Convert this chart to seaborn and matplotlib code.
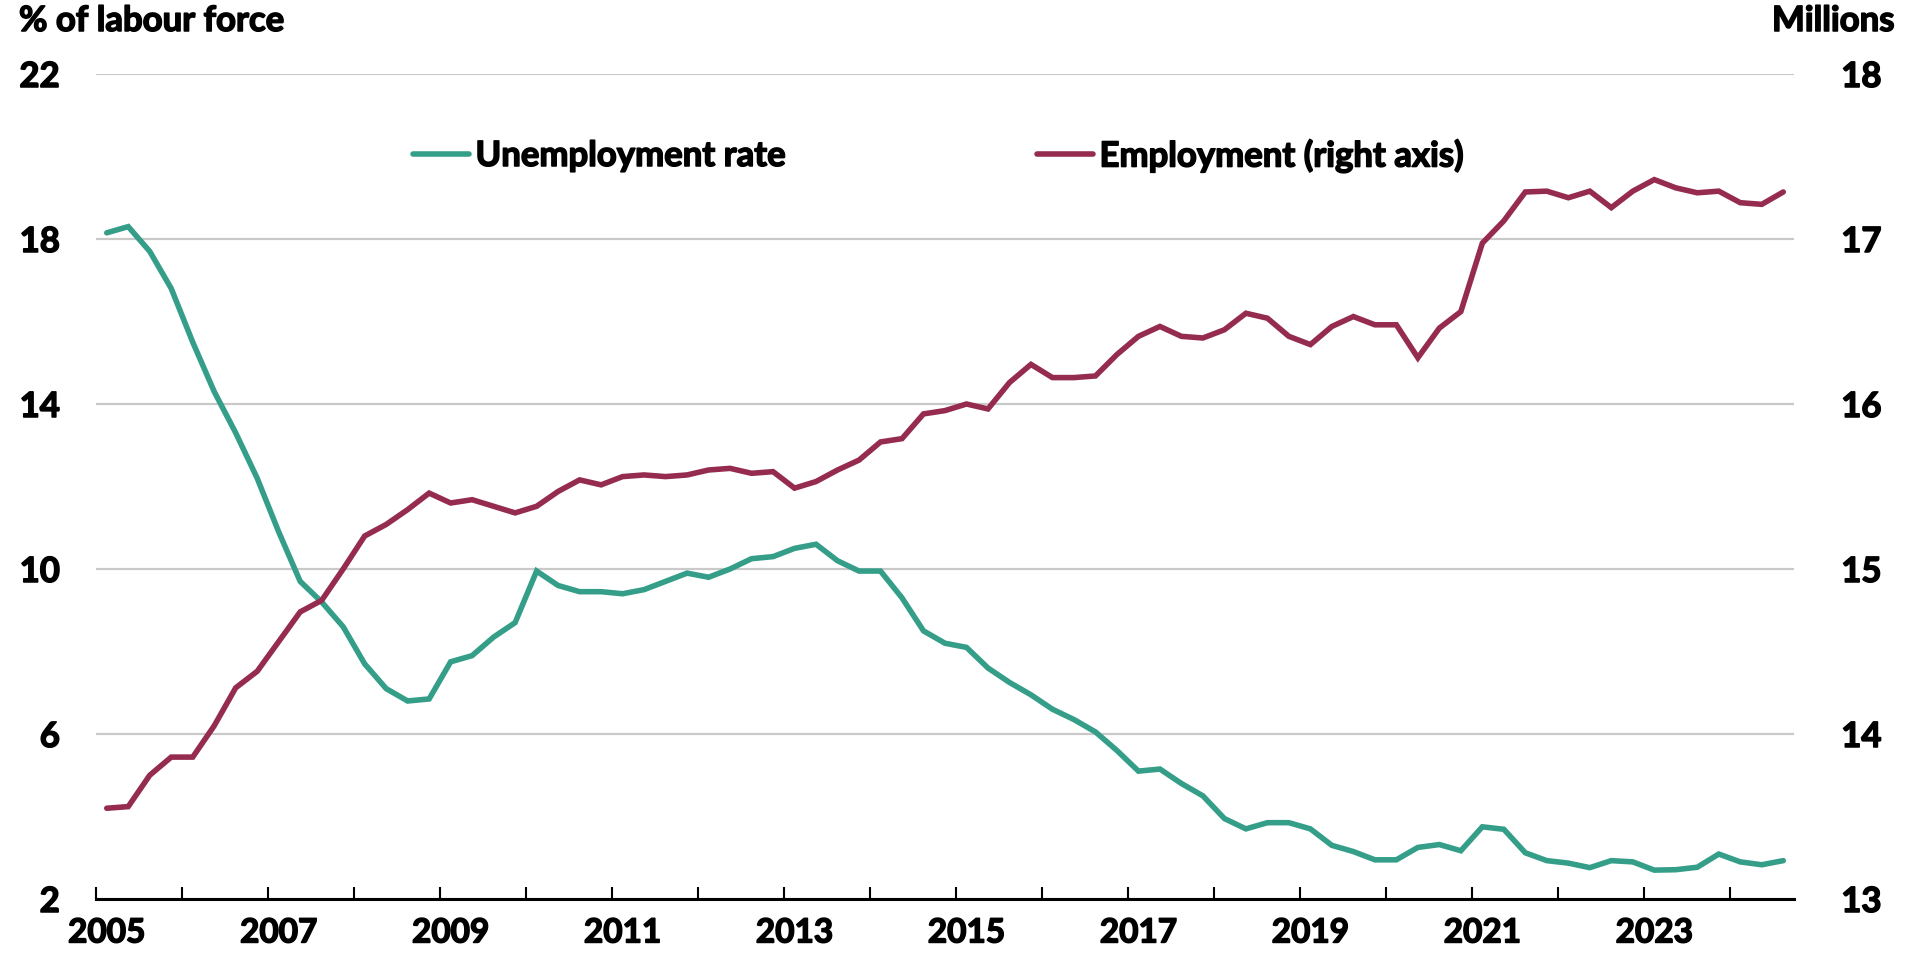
import numpy as np
import pandas as pd
import matplotlib
matplotlib.use("Agg")
import matplotlib.pyplot as plt
import matplotlib.patheffects as pe
import seaborn as sns
from matplotlib.lines import Line2D

# Quarterly observations, 2005 Q1 to 2024 Q3
years = list(range(2005, 2025))
quarters = [f"{y}Q{q}" for y in years for q in range(1, 5)][:79]

unemployment_rate = [
    18.15, 18.3, 17.7, 16.8,
    15.5, 14.3, 13.3, 12.2,
    10.9, 9.7, 9.2, 8.6,
    7.7, 7.1, 6.8, 6.85,
    7.75, 7.9, 8.35, 8.7,
    9.95, 9.6, 9.45, 9.45,
    9.4, 9.5, 9.7, 9.9,
    9.8, 10.0, 10.25, 10.3,
    10.5, 10.6, 10.2, 9.95,
    9.95, 9.3, 8.5, 8.2,
    8.1, 7.6, 7.25, 6.95,
    6.6, 6.35, 6.05, 5.6,
    5.1, 5.15, 4.8, 4.5,
    3.95, 3.7, 3.85, 3.85,
    3.7, 3.3, 3.15, 2.95,
    2.95, 3.25, 3.32, 3.17,
    3.75, 3.69, 3.12, 2.93,
    2.87, 2.76, 2.93, 2.9,
    2.7, 2.71, 2.77, 3.09,
    2.9, 2.83, 2.93,
]

employment_millions = [
    13.55, 13.56, 13.75, 13.86,
    13.86, 14.05, 14.28, 14.38,
    14.56, 14.74, 14.81, 15.0,
    15.2, 15.27, 15.36, 15.46,
    15.4, 15.42, 15.38, 15.34,
    15.38, 15.47, 15.54, 15.51,
    15.56, 15.57, 15.56, 15.57,
    15.6, 15.61, 15.58, 15.59,
    15.49, 15.53, 15.6, 15.66,
    15.77, 15.79, 15.94, 15.96,
    16.0, 15.97, 16.13, 16.24,
    16.16, 16.16, 16.17, 16.3,
    16.41, 16.47, 16.41, 16.4,
    16.45, 16.55, 16.52, 16.41,
    16.36, 16.47, 16.53, 16.48,
    16.48, 16.28, 16.46, 16.56,
    16.975, 17.11, 17.285, 17.29,
    17.25, 17.29, 17.19, 17.29,
    17.36, 17.31, 17.28, 17.29,
    17.22, 17.21, 17.285,
]

left_ticks = [2, 6, 10, 14, 18, 22]
right_ticks = [13, 14, 15, 16, 17, 18]
year_ticks = list(range(2005, 2025))
label_years = [y for y in year_ticks if y % 2 == 1]

TEAL = "#359E89"
MAROON = "#952C50"
GRID = "#C9C9C9"
FONT = "Lato"
SIZE = 25
HEAVY = [pe.withStroke(linewidth=1.1, foreground="black")]

# Each quarter sits in the middle of its quarter-year slot
df = pd.DataFrame({
    "quarter": quarters,
    "unemployment": unemployment_rate,
    "employment": employment_millions,
})
df["t"] = [int(q[:4]) + (int(q[-1]) - 0.5) / 4 for q in df["quarter"]]

sns.set_theme(style="white")
plt.rcParams["font.family"] = [FONT, "DejaVu Sans"]
plt.rcParams["font.weight"] = "bold"

fig = plt.figure(figsize=(19.06, 9.54), dpi=100)
ax = fig.add_axes([96 / 1906, 1 - 900 / 954, (1794 - 96) / 1906, (900 - 75) / 954])
ax2 = ax.twinx()

sns.lineplot(data=df, x="t", y="unemployment", ax=ax, color=TEAL,
             linewidth=4.0, solid_joinstyle="miter", zorder=3)
sns.lineplot(data=df, x="t", y="employment", ax=ax2, color=MAROON,
             linewidth=4.0, solid_joinstyle="miter", zorder=3)

ax.set_xlim(2005, 2024.75)
ax.set_ylim(2, 22)
ax2.set_ylim(13, 18)

ax.set_yticks(left_ticks)
ax.set_yticklabels([str(v) for v in left_ticks])
ax2.set_yticks(right_ticks)
ax2.set_yticklabels([str(v) for v in right_ticks])

# Year labels sit on each labelled year's first quarter
ax.set_xticks([y + 0.125 for y in label_years])
ax.set_xticklabels([str(y) for y in label_years])

# Year-boundary tick marks rising from the baseline
ax.vlines(year_ticks, 0, 0.0145, transform=ax.get_xaxis_transform(),
          colors="black", linewidth=1.5, zorder=4, clip_on=False)

ax.grid(axis="y", which="major", color=GRID, linewidth=1.6)
ax.grid(axis="x", which="both", visible=False)
ax2.grid(False)
ax.set_axisbelow(True)

for a in (ax, ax2):
    for side in ("top", "left", "right"):
        a.spines[side].set_visible(False)
    a.set_xlabel("")
    a.set_ylabel("")
ax.spines["bottom"].set_visible(True)
ax.spines["bottom"].set_color("black")
ax.spines["bottom"].set_linewidth(2.2)
ax2.spines["bottom"].set_visible(False)

ax.tick_params(axis="x", length=0, pad=14, labelsize=24, labelcolor="black")
ax.tick_params(axis="y", length=0, pad=26, labelsize=SIZE, labelcolor="black")
ax2.tick_params(axis="y", length=0, pad=34, labelsize=SIZE, labelcolor="black")
for lab in ax.get_xticklabels() + ax.get_yticklabels() + ax2.get_yticklabels():
    lab.set_fontweight("bold")
    lab.set_path_effects(HEAVY)

fig.text(19 / 1906, 1 - 22 / 954, "% of labour force", ha="left", va="center",
         fontsize=SIZE, fontweight="bold", color="black", path_effects=HEAVY)
fig.text(1894 / 1906, 1 - 22 / 954, "Millions", ha="right", va="center",
         fontsize=SIZE, fontweight="bold", color="black", path_effects=HEAVY)

# Two legend entries placed side by side across the upper part of the plot
for label, color, x0 in [("Unemployment rate", TEAL, 413),
                         ("Employment (right axis)", MAROON, 1037)]:
    leg = fig.legend(handles=[Line2D([], [], color=color, linewidth=4.0)],
                     labels=[label], loc="center left",
                     bbox_to_anchor=(x0 / 1906, 1 - 157 / 954),
                     frameon=False, borderpad=0, borderaxespad=0,
                     handlelength=1.6, handletextpad=0.2,
                     prop={"family": FONT, "weight": "bold", "size": SIZE})
    for t in leg.get_texts():
        t.set_color("black")
        t.set_path_effects(HEAVY)

fig.savefig("out.png", dpi=100, facecolor="white")
